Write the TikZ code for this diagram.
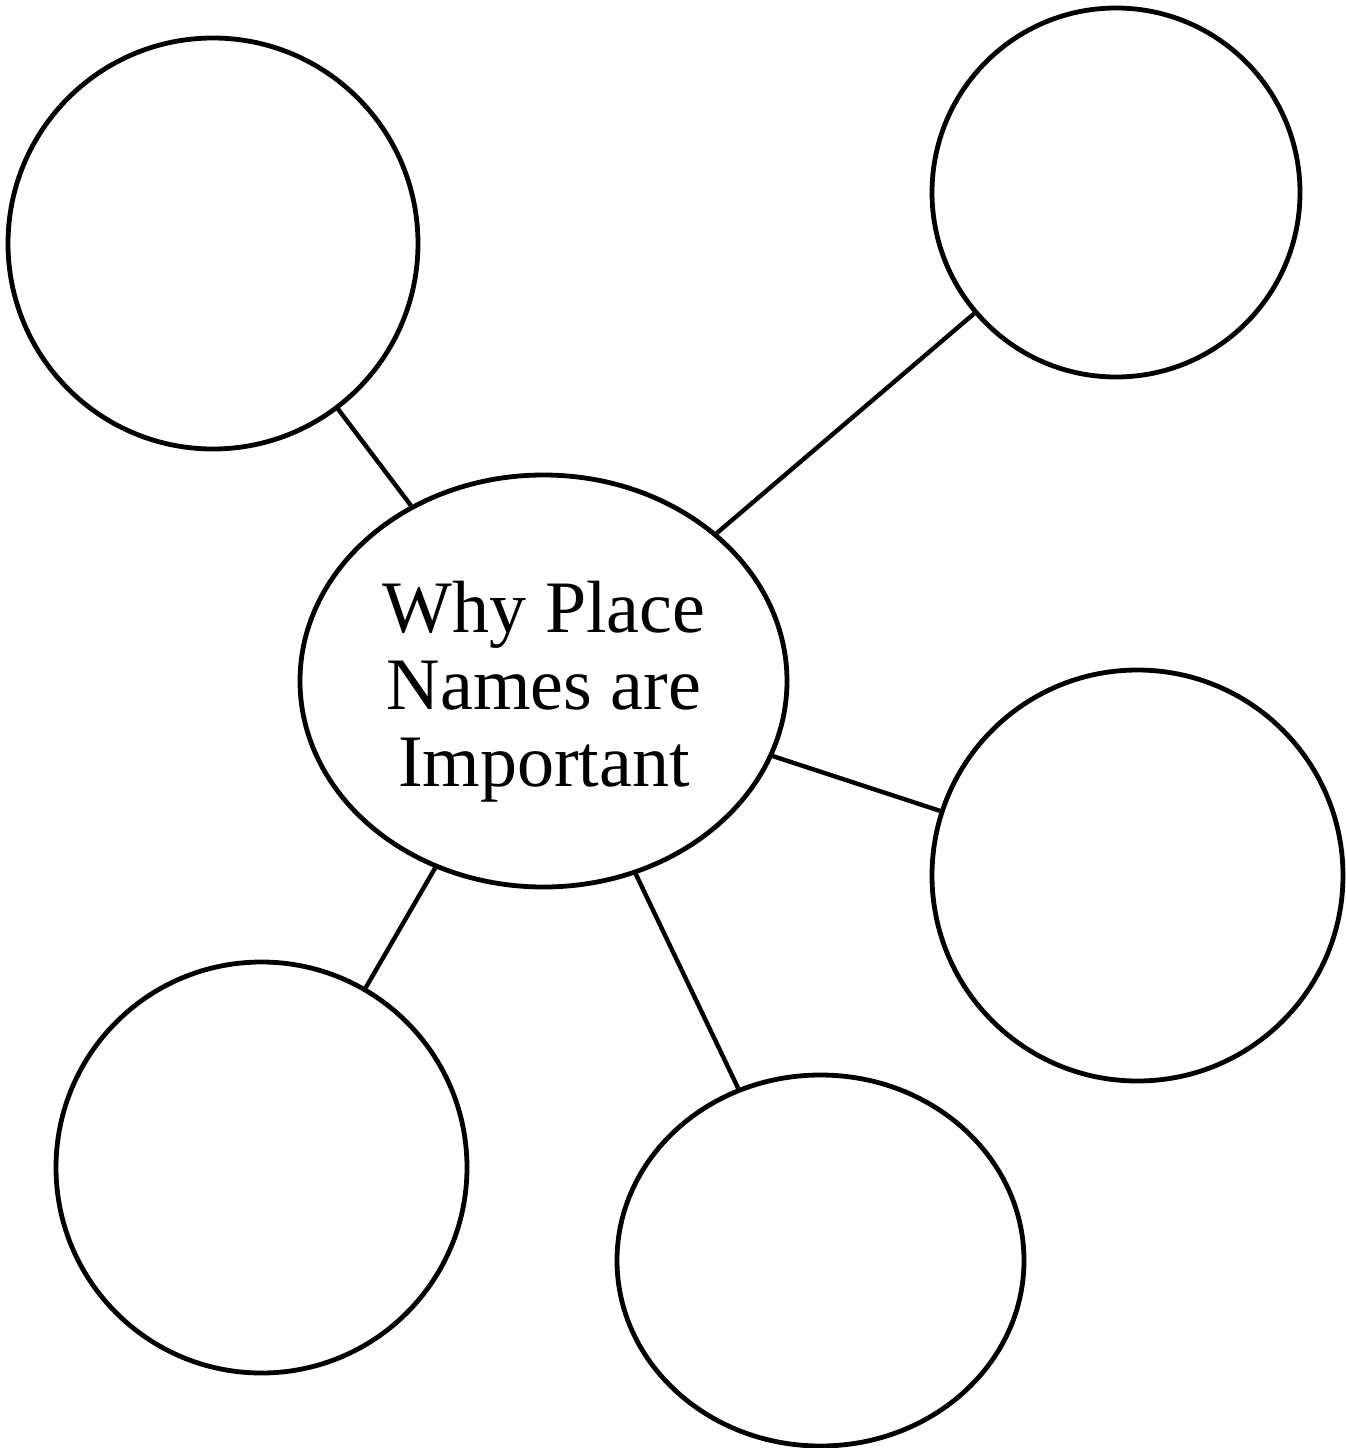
\documentclass[tikz,border=0pt]{standalone}
\usepackage{fontspec}
\setmainfont{Liberation Serif}
\usetikzlibrary{shapes.geometric}
\begin{document}
\begin{tikzpicture}[x=1pt,y=-1pt,
  bubble/.style={draw=black,line width=4.8pt,ellipse,inner sep=0pt,fill=white},
  link/.style={draw=black,line width=4.4pt},
  title/.style={align=center,inner sep=0pt,font=\fontsize{74}{77}\selectfont}]
\useasboundingbox[fill=white] (0,0) rectangle (1345,1448);
\node[bubble,minimum width=487pt,minimum height=412pt] (c) at (543.5,681) {};
\node[bubble,minimum width=410pt,minimum height=411pt] (tl) at (213,243.5) {};
\node[bubble,minimum width=368pt,minimum height=369pt] (tr) at (1116,192.5) {};
\node[bubble,minimum width=411pt,minimum height=411pt] (r) at (1137.5,875.5) {};
\node[bubble,minimum width=411pt,minimum height=411pt] (bl) at (261.5,1167.5) {};
\node[bubble,minimum width=407pt,minimum height=371pt] (bm) at (820.5,1260.5) {};
\node[title] (ct) at (544,692) {Why Place\\Names are\\Important};
\draw[link] (c) -- (tl);
\draw[link] (c) -- (tr);
\draw[link] (c) -- (r);
\draw[link] (c) -- (bl);
\draw[link] (c) -- (bm);
\end{tikzpicture}
\end{document}
